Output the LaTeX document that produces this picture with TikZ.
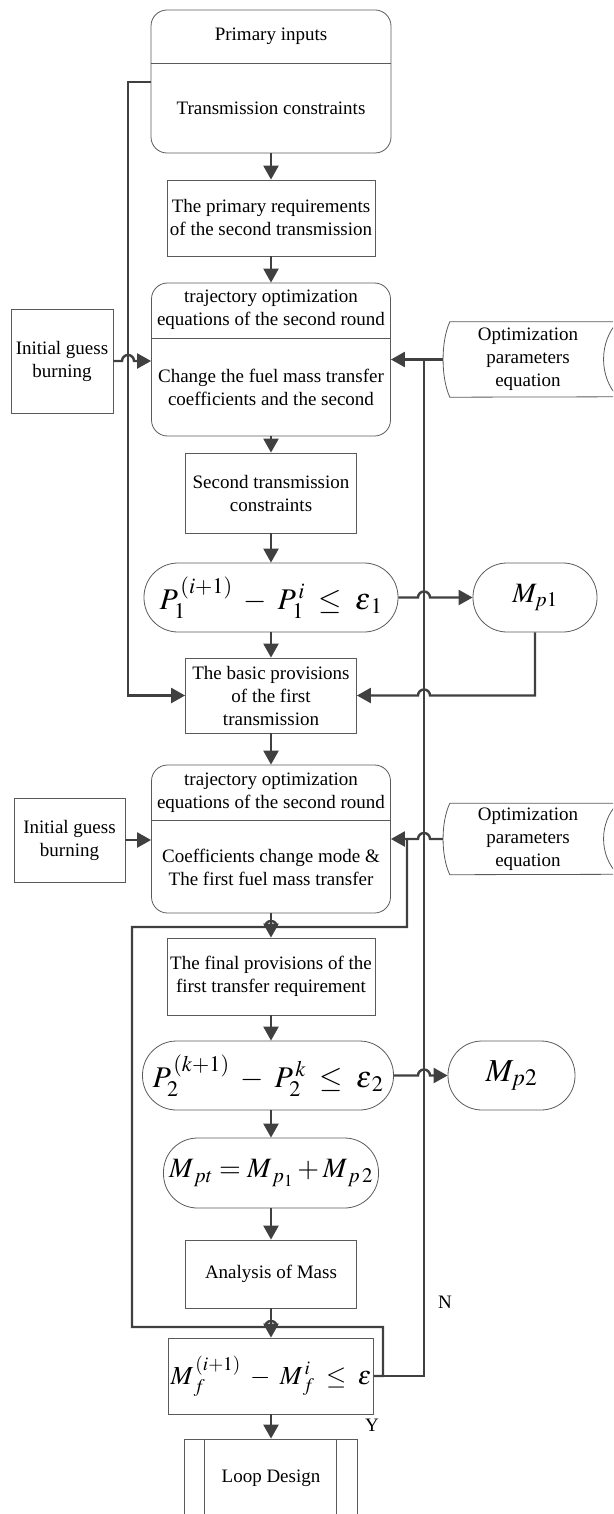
\documentclass[tikz,border=0pt]{standalone}
\usepackage{mathptmx}
\usepackage{fontspec}
\setmainfont{Liberation Serif}
\usetikzlibrary{arrows.meta}
\definecolor{boxgray}{HTML}{5A5A5A}
\definecolor{linegray}{HTML}{404040}
\newcommand{\eqfont}{\fontsize{30}{32}\selectfont}

\begin{document}
\begin{tikzpicture}[x=1pt,y=1pt,font=\fontsize{19}{23}\selectfont,
    box/.style={draw=boxgray,line width=0.8pt,align=center,inner sep=0pt},
    rbox/.style={box,rounded corners=16pt},
    pill/.style={box,rounded corners=34pt},
    flow/.style={draw=linegray,line width=2.4pt,-{Triangle[length=14pt,width=15pt]}},
    wire/.style={draw=linegray,line width=2.4pt}]
  \useasboundingbox (0,0) rectangle (613,-1514);
  \clip (0,0) rectangle (613,-1514);
  % bus lines
  \coordinate (col) at (271,0);
  \coordinate (lbus) at (128,0);
  \coordinate (nbus) at (424,0);
  \coordinate (rloop) at (407,0);
  \coordinate (lloop) at (132,0);
  \coordinate (rback) at (383,0);

  % main column
  \node[rbox,minimum width=240pt,minimum height=143pt] (inp) at (271,-81.5) {};
  \draw[box] (inp.west |- 0,-63) -- (inp.east |- 0,-63);
  \node (inpA) at (271,-36.5) {Primary inputs};
  \node (inpB) at (271,-108) {Transmission constraints};
  \node[box,minimum width=208pt,minimum height=76pt] (req) at (271,-218) {The primary requirements\\of the second transmission};
  \node[rbox,minimum width=239pt,minimum height=153pt] (trajA) at (271,-359.5) {};
  \draw[box] (trajA.west |- 0,-338) -- (trajA.east |- 0,-338);
  \node[align=center] (trajAa) at (271,-310) {trajectory optimization\\equations of the second round};
  \node[align=center] (trajAb) at (271,-387) {Change the fuel mass transfer\\coefficients and the second};
  \node[box,minimum width=171pt,minimum height=80pt] (stc) at (271,-493) {Second transmission\\constraints};
  \node[pill,minimum width=254pt,minimum height=69pt] (pA) at (271,-597.5) {\eqfont$P_1^{\,(i+1)}\;-\;P_1^{\,i}\;\le\;\varepsilon_{\,1}$};
  \node[box,minimum width=171pt,minimum height=75pt] (bp) at (271,-695.5) {The basic provisions\\of the first\\transmission};
  \node[rbox,minimum width=239pt,minimum height=148pt] (trajB) at (271,-839) {};
  \draw[box] (trajB.west |- 0,-820) -- (trajB.east |- 0,-820);
  \node[align=center] (trajBa) at (271,-793) {trajectory optimization\\equations of the second round};
  \node[align=center] (trajBb) at (271,-867) {Coefficients change mode \&\\The first fuel mass transfer};
  \node[box,minimum width=208pt,minimum height=77pt] (fp) at (271,-976.5) {The final provisions of the\\first transfer requirement};
  \node[pill,minimum width=251pt,minimum height=69pt] (pB) at (268,-1075.5) {\eqfont$P_2^{\,(k+1)}\;-\;P_2^{\,k}\;\le\;\varepsilon_{\,2}$};
  \node[pill,minimum width=215pt,minimum height=70pt] (mpt) at (271,-1173) {\fontsize{28}{30}\selectfont$M_{\,pt}=M_{\,p_1}+M_{\,p\,2}$};
  \node[box,minimum width=171pt,minimum height=68pt] (am) at (271,-1274) {Analysis of Mass};
  \node[box,minimum width=205pt,minimum height=76pt] (mf) at (271,-1376) {\fontsize{26}{28}\selectfont$M^{\,(i+1)}_{\,f}\;-\;M^{\,i}_{\,f}\;\le\;\varepsilon$};
  \node[box,minimum width=173pt,minimum height=78pt] (ld) at (271,-1478) {Loop Design};
  \draw[box] ([xshift=20pt]ld.north west) -- ([xshift=20pt]ld.south west);
  \draw[box] ([xshift=-22pt]ld.north east) -- ([xshift=-22pt]ld.south east);

  % side boxes
  \node[box,minimum width=102pt,minimum height=104pt] (igA) at (62,-361) {Initial guess\\burning};
  \node[box,minimum width=111pt,minimum height=84pt] (igB) at (69.5,-840) {Initial guess\\burning};
  \node[align=center,minimum width=170pt,minimum height=75pt] (optA) at (528,-359.5) {Optimization\\parameters\\equation};
  \draw[box] ([xshift=7pt]optA.north west) -- ++(168,0) .. controls +(-19,-20) and +(-19,20) .. ++(0,-75)
    -- ([xshift=7pt]optA.south west) .. controls +(-9,20) and +(-9,-20) .. cycle;
  \node[align=center,minimum width=170pt,minimum height=71pt] (optB) at (528,-839) {Optimization\\parameters\\equation};
  \draw[box] ([xshift=7pt]optB.north west) -- ++(168,0) .. controls +(-19,-19) and +(-19,19) .. ++(0,-71)
    -- ([xshift=7pt]optB.south west) .. controls +(-9,19) and +(-9,-19) .. cycle;
  \node[pill,minimum width=124pt,minimum height=69pt] (mA) at (535,-597.5) {\fontsize{28}{30}\selectfont$M_{p1}$};
  \node[pill,minimum width=127pt,minimum height=69pt] (mB) at (511.5,-1075.5) {\fontsize{32}{34}\selectfont$M_{p2}$};

  % flow down the column
  \draw[flow] (inp.south) -- (req.north);
  \draw[flow] (req.south) -- (trajA.north);
  \draw[flow] (trajA.south) -- (stc.north);
  \draw[flow] (stc.south) -- (pA.south |- pA.north);
  \draw[flow] (pA.south -| col) -- (bp.north);
  \draw[flow] (bp.south) -- (trajB.north);
  \draw[flow] (trajB.south) -- (fp.north);
  \draw[flow] (fp.south) -- (fp.south |- pB.north);
  \draw[flow] (pB.south -| col) -- (mpt.north);
  \draw[flow] (mpt.south) -- (am.north);
  \draw[flow] (am.south) -- (mf.north);
  \draw[flow] (mf.south) -- (ld.north);

  % side inputs
  \draw[flow] (inp.west |- 0,-82) -- (lbus |- 0,-82) -- (lbus |- bp.west) -- (bp.west);
  \draw[flow] (igA.east) -- ([xshift=-6pt]lbus |- igA.east) arc[start angle=180,end angle=0,radius=6pt] -- (trajA.west |- igA.east);
  \draw[flow] (optA.west) -- (trajA.east |- optA.west);
  \draw[flow] (igB.east) -- (trajB.west |- igB.east);
  \draw[flow] (optB.west) -- ([xshift=6pt]nbus |- optB.west) arc[start angle=0,end angle=180,radius=6pt] -- (trajB.east |- optB.west);
  \draw[flow] (pA.east) -- ([xshift=-6pt]nbus |- pA.east) arc[start angle=180,end angle=0,radius=6pt] -- (mA.west);
  \draw[flow] (mA.south) -- (mA.south |- bp.east) -- ([xshift=6pt]nbus |- bp.east) arc[start angle=0,end angle=180,radius=6pt] -- (bp.east);
  \draw[flow] (pB.east) -- ([xshift=-6pt]nbus |- pB.east) arc[start angle=180,end angle=0,radius=6pt] -- (mB.west);

  % feedback loops
  \draw[wire] (mf.east) -- (nbus |- mf.east) -- (nbus |- optA.west);
  \draw[wire] (mf.east) -- (rback |- mf.east) -- (rback |- 0,-1327)
    -- ([xshift=6pt]col |- 0,-1327) arc[start angle=0,end angle=180,radius=6pt]
    -- (lloop |- 0,-1327) -- (lloop |- 0,-927)
    -- ([xshift=-6pt]col |- 0,-927) arc[start angle=180,end angle=0,radius=6pt]
    -- (rloop |- 0,-927) -- (rloop |- optB.west);
  \node (nlab) at (445,-1302) {N};
  \node (ylab) at (372,-1425) {Y};
\end{tikzpicture}
\end{document}
